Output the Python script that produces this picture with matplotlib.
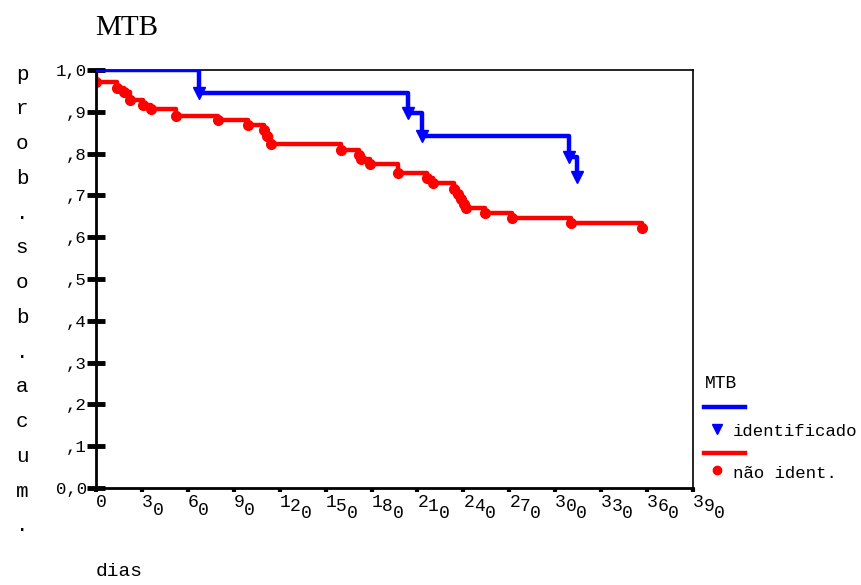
import matplotlib
matplotlib.use("Agg")
import matplotlib.pyplot as plt
from matplotlib.lines import Line2D

# Kaplan-Meier style data (days, cumulative survival)
ident_t = [0, 67, 204, 213, 309, 314]
ident_s = [1.0, 0.944, 0.896, 0.842, 0.791, 0.745]

nao_t = [0, 0, 14, 18, 22, 31, 36, 52, 80, 99, 110, 112, 114, 160, 171.5, 173,
         179, 197, 216, 220, 234, 236.5, 238.6, 240.7, 242, 254, 272, 310, 357]
nao_s = [1.0, 0.972, 0.958, 0.948, 0.928, 0.917, 0.907, 0.891, 0.880, 0.868,
         0.857, 0.842, 0.822, 0.809, 0.797, 0.788, 0.775, 0.753, 0.741, 0.729,
         0.716, 0.704, 0.692, 0.680, 0.669, 0.657, 0.645, 0.633, 0.621]

x_ticks = list(range(0, 391, 30))
y_ticks = [i / 10 for i in range(11)]
y_ticklabels = ["0,0", ",1", ",2", ",3", ",4", ",5", ",6", ",7", ",8", ",9", "1,0"]
ylabel_chars = list("prob.sob.acum.")

MONO = "Liberation Mono"
W, H = 861, 585

fig = plt.figure(figsize=(W / 100, H / 100), dpi=100)
ax = fig.add_axes([96 / W, 1 - 488 / H, 597 / W, 418 / H])

# curves
ax.step(ident_t, ident_s, where="post", color="blue", lw=3.2, zorder=3)
ax.plot(ident_t[1:], ident_s[1:], "v", color="blue", ms=8, zorder=4)
ax.step(nao_t, nao_s, where="post", color="red", lw=3.2, zorder=2)
ax.plot(nao_t[1:], nao_s[1:], "o", color="red", ms=7, zorder=2)

ax.set_xlim(0, 390)
ax.set_ylim(0, 1.0)

for side in ["left", "bottom"]:
    ax.spines[side].set_linewidth(2)
for side in ["top", "right"]:
    ax.spines[side].set_linewidth(1.2)

ax.set_yticks(y_ticks)
ax.set_yticklabels(y_ticklabels, fontfamily=MONO, fontsize=12.5)
ax.tick_params(axis="y", direction="inout", length=13, width=3.5, pad=0)
ax.set_xticks(x_ticks)
ax.set_xticklabels([])
ax.tick_params(axis="x", direction="out", length=3, width=3)

# staggered x tick labels, character by character
for v in x_ticks:
    s = str(v)
    offs = {1: [0], 2: [0, 8], 3: [0, 4, 11]}[len(s)]
    for i, ch in enumerate(s):
        ax.annotate(ch, xy=(v, 0), xycoords=("data", "axes fraction"),
                    xytext=(i * 10.5, -6 - offs[i]), textcoords="offset pixels",
                    ha="left", va="top", fontfamily=MONO, fontsize=13)

# titles / labels
fig.text(95 / W, 1 - 28 / H, "MTB", fontfamily="Liberation Serif", fontsize=21,
         va="center", ha="left")
fig.text(22 / W, 1 - 300 / H, "\n".join(ylabel_chars), fontfamily=MONO,
         fontsize=15, ha="center", va="center", linespacing=2.05)
fig.text(96 / W, 1 - 572 / H, "dias", fontfamily=MONO, fontsize=14,
         ha="left", va="center")

# legend drawn by hand
fig.text(705 / W, 1 - 383 / H, "MTB", fontfamily=MONO, fontsize=13, va="center")
fig.add_artist(Line2D([704 / W, 745 / W], [1 - 407 / H] * 2, color="blue", lw=3.2,
                      transform=fig.transFigure))
fig.add_artist(Line2D([717 / W], [1 - 429 / H], marker="v", color="blue", ms=7,
                      transform=fig.transFigure))
fig.text(733 / W, 1 - 431 / H, "identificado", fontfamily=MONO, fontsize=12.5,
         va="center")
fig.add_artist(Line2D([704 / W, 745 / W], [1 - 453 / H] * 2, color="red", lw=3.2,
                      transform=fig.transFigure))
fig.add_artist(Line2D([717 / W], [1 - 470 / H], marker="o", color="red", ms=6,
                      transform=fig.transFigure))
fig.text(733 / W, 1 - 474 / H, "não ident.", fontfamily=MONO, fontsize=12.5,
         va="center")

fig.savefig("out.png", dpi=100)
